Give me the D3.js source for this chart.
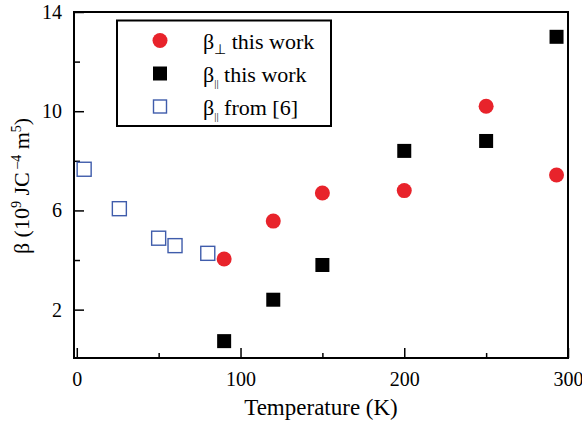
<!DOCTYPE html>
<html>
<head>
<meta charset="utf-8">
<script src="https://cdn.jsdelivr.net/npm/d3@7"></script>
<style>
body { margin: 0; background: #fff; }
svg text { font-family: "Liberation Serif", "Times New Roman", serif; }
</style>
</head>
<body>
<div id="chart"></div>
<script>
const width = 582, height = 424;
const margin = {top: 12, right: 14, bottom: 66, left: 74};

// data
const tPerp = [90, 120, 150, 200, 250, 293];
const betaPerp = [4.04, 5.57, 6.7, 6.8, 10.2, 7.43];
const tPar = [90, 120, 150, 200, 250, 293];
const betaPar = [0.73, 2.4, 3.8, 8.4, 8.8, 13.0];
const tRef = [4.5, 26, 50, 60, 80];
const betaRef = [7.66, 6.07, 4.88, 4.58, 4.27];

const xMajor = [0, 100, 200, 300];
const xMinor = [50, 150, 250];
const yMajor = [2, 6, 10, 14];
const yMinor = [4, 8, 12];

const legendItems = [
    {sym: "circle", sub: "\u22A5", text: " this work"},
    {sym: "square", sub: "||", text: " this work"},
    {sym: "open", sub: "||", text: " from [6]"}
];

const red = "#e8232b", blue = "#3f5cab";

const svg = d3.select("#chart").append("svg")
    .attr("width", width)
    .attr("height", height);

const x = d3.scaleLinear()
    .domain([-1.7, 300])
    .range([margin.left, width - margin.right]);

const y = d3.scaleLinear()
    .domain([0.05, 14])
    .range([height - margin.bottom, margin.top]);

// minor ticks (no labels)
svg.append("g")
    .attr("transform", `translate(0,${height - margin.bottom})`)
    .call(d3.axisBottom(x).tickValues(xMinor).tickSize(-5).tickFormat(""))
    .call(g => g.select(".domain").remove())
    .call(g => g.selectAll("line").attr("stroke-width", 1.5));

svg.append("g")
    .attr("transform", `translate(${margin.left},0)`)
    .call(d3.axisLeft(y).tickValues(yMinor).tickSize(-6).tickFormat(""))
    .call(g => g.select(".domain").remove())
    .call(g => g.selectAll("line").attr("stroke-width", 1.5));

// major ticks with labels
svg.append("g")
    .attr("transform", `translate(0,${height - margin.bottom})`)
    .call(d3.axisBottom(x).tickValues(xMajor).tickSizeInner(-10).tickSizeOuter(0).tickPadding(14))
    .call(g => g.select(".domain").remove())
    .call(g => g.selectAll("line").attr("stroke-width", 1.5))
    .call(g => g.selectAll("text").attr("font-size", 20));

svg.append("g")
    .attr("transform", `translate(${margin.left},0)`)
    .call(d3.axisLeft(y).tickValues(yMajor).tickSizeInner(-10).tickSizeOuter(0).tickPadding(12))
    .call(g => g.select(".domain").remove())
    .call(g => g.selectAll("line").attr("stroke-width", 1.5))
    .call(g => g.selectAll("text").attr("font-size", 20));

// frame
svg.append("rect")
    .attr("x", margin.left)
    .attr("y", margin.top)
    .attr("width", width - margin.left - margin.right)
    .attr("height", height - margin.top - margin.bottom)
    .attr("fill", "none")
    .attr("stroke", "#000")
    .attr("stroke-width", 2);

// axis titles
svg.append("text")
    .attr("x", 321)
    .attr("y", 415)
    .attr("text-anchor", "middle")
    .attr("font-size", 23)
    .text("Temperature (K)");

const yl = svg.append("text")
    .attr("transform", `translate(29,186) rotate(-90)`)
    .attr("text-anchor", "middle")
    .attr("font-size", 22);
yl.append("tspan").text("\u03B2 (10");
yl.append("tspan").attr("dy", -8).attr("font-size", 14).text("9");
yl.append("tspan").attr("dy", 8).text(" JC");
yl.append("tspan").attr("dy", -8).attr("font-size", 14).text(" \u20134");
yl.append("tspan").attr("dy", 8).text(" m");
yl.append("tspan").attr("dy", -8).attr("font-size", 14).text("5");
yl.append("tspan").attr("dy", 8).text(")");

const sz = 14;

// blue open squares
svg.append("g")
    .selectAll("rect")
    .data(tRef.map((t, i) => ({t, b: betaRef[i]})))
    .enter().append("rect")
    .attr("x", d => x(d.t) - sz / 2)
    .attr("y", d => y(d.b) - sz / 2)
    .attr("width", sz)
    .attr("height", sz)
    .attr("fill", "none")
    .attr("stroke", blue)
    .attr("stroke-width", 1.4);

// red circles
svg.append("g")
    .selectAll("circle")
    .data(tPerp.map((t, i) => ({t, b: betaPerp[i]})))
    .enter().append("circle")
    .attr("cx", d => x(d.t))
    .attr("cy", d => y(d.b))
    .attr("r", 7.5)
    .attr("fill", red);

// black squares
svg.append("g")
    .selectAll("rect")
    .data(tPar.map((t, i) => ({t, b: betaPar[i]})))
    .enter().append("rect")
    .attr("x", d => x(d.t) - sz / 2)
    .attr("y", d => y(d.b) - sz / 2)
    .attr("width", sz)
    .attr("height", sz)
    .attr("fill", "#000");

// legend
const legend = svg.append("g");
legend.append("rect")
    .attr("x", 117)
    .attr("y", 20.5)
    .attr("width", 214)
    .attr("height", 105.5)
    .attr("fill", "#fff")
    .attr("stroke", "#000")
    .attr("stroke-width", 2);

legendItems.forEach((item, i) => {
    const cy = 40.5 + i * 33;
    if (item.sym === "circle") {
        legend.append("circle").attr("cx", 160).attr("cy", cy).attr("r", 7.5).attr("fill", red);
    } else if (item.sym === "square") {
        legend.append("rect").attr("x", 153).attr("y", cy - 7).attr("width", sz).attr("height", sz).attr("fill", "#000");
    } else {
        legend.append("rect").attr("x", 153.5).attr("y", cy - 6.5).attr("width", 13).attr("height", 13)
            .attr("fill", "none").attr("stroke", blue).attr("stroke-width", 1.4);
    }
    const t = legend.append("text")
        .attr("x", 203)
        .attr("y", cy + 8)
        .attr("font-size", 22);
    t.append("tspan").text("\u03B2");
    t.append("tspan").attr("font-size", item.sub === "||" ? 11 : 14).attr("dy", 5)
        .text(item.sub);
    t.append("tspan").attr("dy", -5).text(item.text);
});
</script>
</body>
</html>
